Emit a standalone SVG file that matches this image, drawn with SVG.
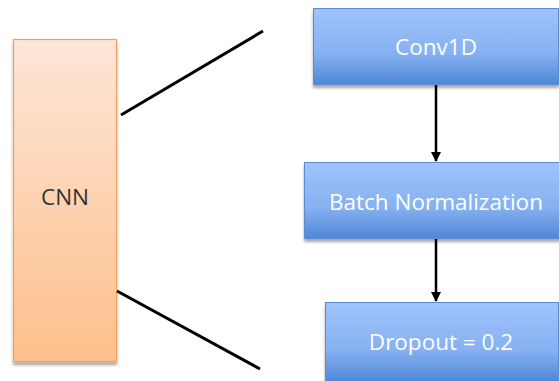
<svg xmlns="http://www.w3.org/2000/svg" width="559" height="381" viewBox="0 0 559 381">
<defs>
<linearGradient id="gOrange" x1="0" y1="0" x2="0" y2="1">
<stop offset="0" stop-color="#fde6d8"/>
<stop offset="1" stop-color="#fdbf8b"/>
</linearGradient>
<linearGradient id="gBlue" x1="0" y1="0" x2="0" y2="1">
<stop offset="0" stop-color="#9fc4fd"/>
<stop offset="0.6" stop-color="#86b0f0"/>
<stop offset="1" stop-color="#4d87d6"/>
</linearGradient>
<filter id="sh" x="-10%" y="-10%" width="120%" height="130%">
<feGaussianBlur in="SourceAlpha" stdDeviation="1.5"/>
<feOffset dx="0" dy="2.5" result="b"/>
<feComponentTransfer><feFuncA type="linear" slope="0.35"/></feComponentTransfer>
<feMerge><feMergeNode/><feMergeNode in="SourceGraphic"/></feMerge>
</filter>
<marker id="arr" viewBox="0 0 10 10" refX="9" refY="5" markerWidth="4" markerHeight="4" orient="auto">
<path d="M0,0 L10,5 L0,10 z" fill="#000"/>
</marker>
</defs>
<style>
.blue{fill:url(#gBlue);stroke:#5b8bd0;stroke-width:1;filter:url(#sh)}
.orange{fill:url(#gOrange);stroke:#f5a05a;stroke-width:1.2;filter:url(#sh)}
.lbl{font-family:"Open Sans","Liberation Sans",sans-serif;font-size:22.5px;fill:#ffffff;text-anchor:middle}
.dark{fill:#333333}
.con{stroke:#000;stroke-width:3;fill:none}
.arr{stroke:#000;stroke-width:2.5;fill:none;marker-end:url(#arr)}
</style>
<g id="cnn">
<rect class="orange" x="13.5" y="39.5" width="103" height="322"/>
<text class="lbl dark" x="65" y="205">CNN</text>
</g>
<g id="conv1d">
<rect class="blue" x="313.5" y="8.5" width="245" height="76"/>
<text class="lbl" x="436" y="55">Conv1D</text>
</g>
<g id="batchnorm">
<rect class="blue" x="304.5" y="162.5" width="260" height="76"/>
<text class="lbl" x="436" y="210">Batch Normalization</text>
</g>
<g id="dropout">
<rect class="blue" x="325.5" y="302.5" width="233" height="80"/>
<text class="lbl" x="441" y="350">Dropout = 0.2</text>
</g>
<g id="connectors">
<line class="con" x1="121" y1="115" x2="263" y2="31"/>
<line class="con" x1="117" y1="291" x2="260" y2="369"/>
<line class="arr" x1="436" y1="85" x2="436" y2="161"/>
<line class="arr" x1="436" y1="239" x2="436" y2="301"/>
</g>
</svg>
